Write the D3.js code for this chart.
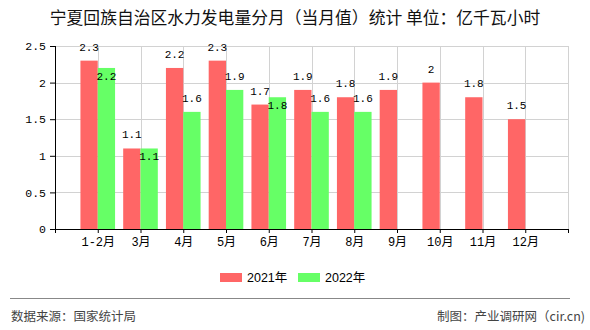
<!DOCTYPE html>
<html><head><meta charset="utf-8">
<script src="https://cdn.jsdelivr.net/npm/d3@7"></script>
<style>body{margin:0;background:#fff}svg{display:block}</style>
</head><body>
<script>
const categories = ["1-2月","3月","4月","5月","6月","7月","8月","9月","10月","11月","12月"];
const values2021 = [2.3,1.1,2.2,2.3,1.7,1.9,1.8,1.9,2,1.8,1.5];
const values2022 = [2.2,1.1,1.6,1.9,1.8,1.6,1.6,null,null,null,null];
const seriesNames = ["2021年","2022年"];
const yTicks = [0,0.5,1,1.5,2,2.5];
const title = "宁夏回族自治区水力发电量分月（当月值）统计  单位：亿千瓦小时";
const sourceText = "数据来源：国家统计局";
const creditText = "制图：产业调研网（cir.cn)";

(function(){
const W=590,H=330;
const colors=["#ff6666","#66ff66"];
const monoFont='"Liberation Mono","Noto Sans CJK SC",monospace';
const cjk='"Noto Sans CJK SC",sans-serif';

const svg=d3.select("body").append("svg").attr("width",W).attr("height",H);
const pl=55,pr=568,pt=46,pb=229;
const domain=["__s",...categories,"__e"];
const x=d3.scalePoint().domain(domain).range([pl,pr]);
const y=d3.scaleLinear().domain([0,2.5]).range([pb,pt]);
const bw=x.step()*0.405;

svg.append("text").attr("x",W/2).attr("y",24).attr("text-anchor","middle")
  .attr("font-family",cjk).attr("font-size",16.8).attr("fill","#111").text(title);

const g=svg.append("g");
g.selectAll("line.h").data(yTicks.slice(1)).enter().append("line")
  .attr("x1",pl).attr("x2",pr).attr("y1",d=>Math.round(y(d))+0.5).attr("y2",d=>Math.round(y(d))+0.5)
  .attr("stroke","#d2d2d2");
g.selectAll("line.v").data(domain.slice(1)).enter().append("line")
  .attr("x1",d=>Math.round(x(d))+0.5).attr("x2",d=>Math.round(x(d))+0.5).attr("y1",pt).attr("y2",pb)
  .attr("stroke","#d2d2d2");

const data=categories.map((c,i)=>({c,a:values2021[i],b:values2022[i]}));
svg.selectAll("rect.a").data(data).enter().append("rect")
  .attr("x",d=>x(d.c)-bw).attr("width",bw).attr("y",d=>y(d.a)).attr("height",d=>y(0)-y(d.a))
  .attr("fill",colors[0]);
svg.selectAll("rect.b").data(data.filter(d=>d.b!=null)).enter().append("rect")
  .attr("x",d=>x(d.c)).attr("width",bw).attr("y",d=>y(d.b)).attr("height",d=>y(0)-y(d.b))
  .attr("fill",colors[1]);

svg.selectAll("text.la").data(data).enter().append("text")
  .attr("x",d=>x(d.c)-bw/2).attr("y",d=>y(d.a)-10).attr("text-anchor","middle")
  .attr("font-family",monoFont).attr("font-size",11).attr("fill","#000").text(d=>d.a);
svg.selectAll("text.lb").data(data.filter(d=>d.b!=null)).enter().append("text")
  .attr("x",d=>x(d.c)+bw/2)
  .attr("y",d=>Math.abs(d.a-d.b)<0.15 ? y(d.b)+12 : y(d.b)-10)
  .attr("text-anchor","middle")
  .attr("font-family",monoFont).attr("font-size",11).attr("fill","#000").text(d=>d.b);

const xAxis=d3.axisBottom(x).tickSize(4).tickFormat(d=>d.startsWith("__")?"":d);
const xa=svg.append("g").attr("transform",`translate(0,${pb})`).call(xAxis);
xa.select(".domain").attr("d",`M${pl},0.5H${pr}`).attr("stroke","#000");
xa.selectAll(".tick line").attr("stroke","#000");
xa.selectAll(".tick text").attr("font-family",monoFont).attr("font-size",12).attr("fill","#000").attr("dy","0.85em");

const yAxis=d3.axisLeft(y).tickValues(yTicks).tickSize(5).tickFormat(d=>String(d));
const ya=svg.append("g").attr("transform",`translate(${pl},0)`).call(yAxis);
ya.select(".domain").attr("d",`M0.5,${pt}V${pb}`).attr("stroke","#000");
ya.selectAll(".tick line").attr("stroke","#000");
ya.selectAll(".tick text").attr("font-family",monoFont).attr("font-size",11.5).attr("fill","#000").attr("x",-9);

const lg=svg.append("g");
const lx=[220,298];
seriesNames.forEach((n,i)=>{
  lg.append("rect").attr("x",lx[i]).attr("y",273).attr("width",22).attr("height",9).attr("fill",colors[i]);
  lg.append("text").attr("x",lx[i]+27).attr("y",281.5).attr("font-family",'"Liberation Sans","Noto Sans CJK SC",sans-serif')
    .attr("font-size",12.5).attr("fill","#000").text(n);
});

svg.append("line").attr("x1",10).attr("x2",570).attr("y1",298.5).attr("y2",298.5).attr("stroke","#888").attr("stroke-width",1.2);
svg.append("text").attr("x",11).attr("y",321).attr("font-family",cjk).attr("font-size",12.5).attr("fill","#444").text(sourceText);
svg.append("text").attr("x",585).attr("y",321).attr("text-anchor","end").attr("font-family",cjk).attr("font-size",12.5).attr("fill","#444").text(creditText);
})();
</script>
</body></html>
